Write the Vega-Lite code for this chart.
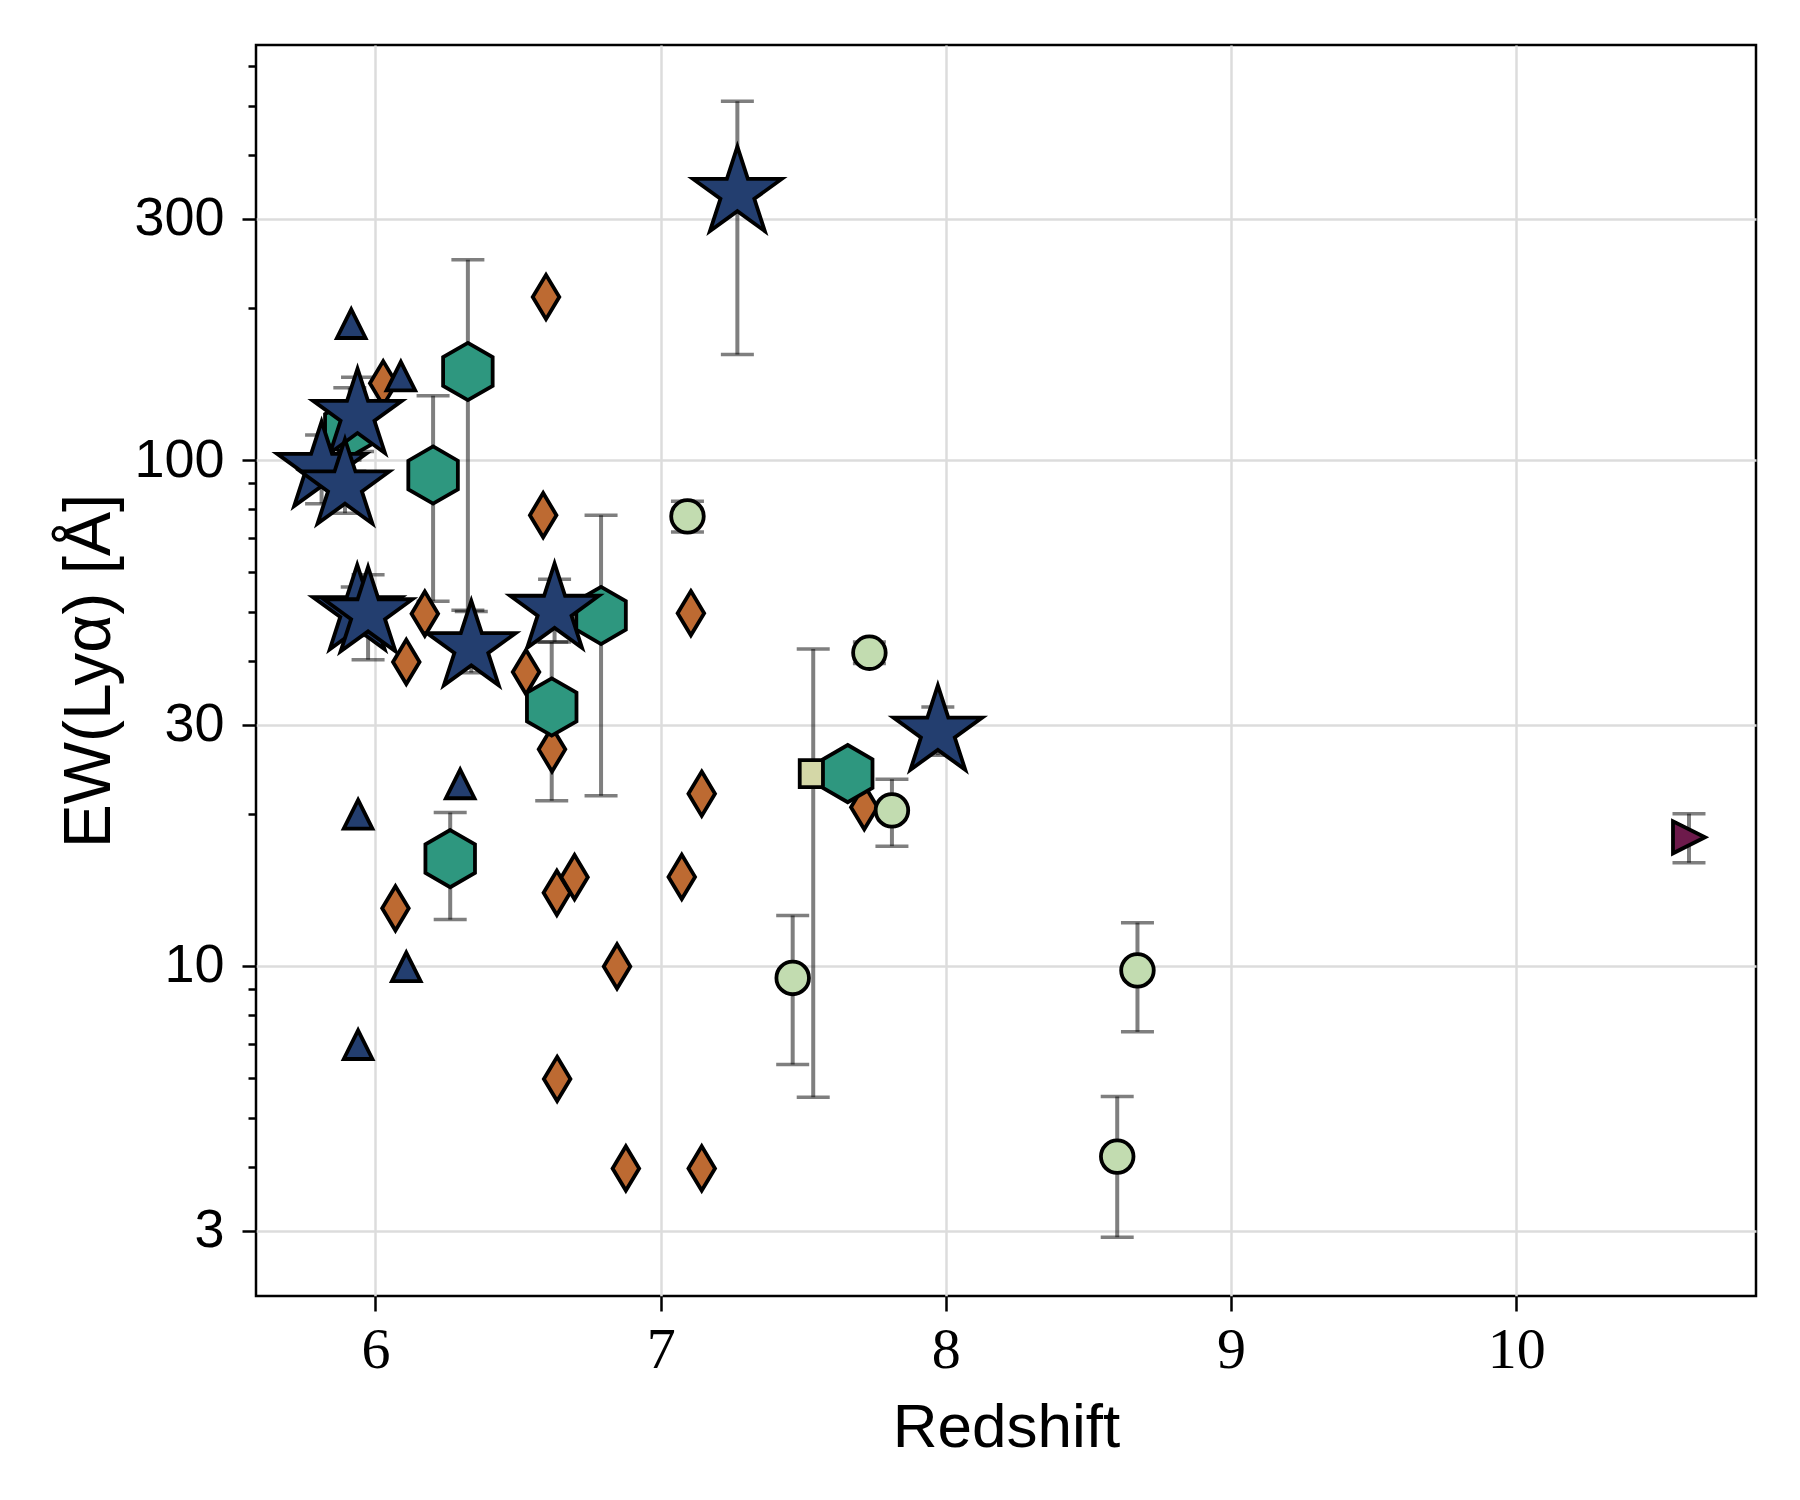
{
  "$schema": "https://vega.github.io/schema/vega-lite/v6.json",
  "autosize": "none",
  "padding": {"left": 256, "top": 45, "right": 44, "bottom": 204},
  "width": 1500,
  "height": 1251,
  "background": "white",
  "config": {
    "view": {"stroke": "black", "strokeWidth": 2.5},
    "axis": {"domain": false, "tickColor": "black", "tickWidth": 2.5, "labelColor": "black", "titleColor": "black", "titleFontWeight": "normal", "gridColor": "#dcdcdc", "gridWidth": 2.5, "labelOverlap": false}
  },
  "datasets": {
    "pts": [
      {"g": "star", "z": 5.937, "ew": 122.6, "lo": 104, "hi": 145.7},
      {"g": "star", "z": 5.811, "ew": 96.3, "lo": 82, "hi": 112},
      {"g": "star", "z": 5.893, "ew": 88.9, "lo": 78.5, "hi": 100},
      {"g": "star", "z": 5.936, "ew": 50.2, "lo": 45, "hi": 56.1},
      {"g": "star", "z": 5.974, "ew": 49.7, "lo": 40.3, "hi": 59.3},
      {"g": "star", "z": 6.336, "ew": 42.6, "lo": 38, "hi": 50.2},
      {"g": "star", "z": 6.628, "ew": 50.5, "lo": 43.7, "hi": 58.1},
      {"g": "star", "z": 7.269, "ew": 336.6, "lo": 161.6, "hi": 511.6},
      {"g": "star", "z": 7.972, "ew": 29.0, "lo": 26.1, "hi": 32.5},
      {"g": "tri", "z": 5.915, "ew": 186},
      {"g": "tri", "z": 6.089, "ew": 146.5},
      {"g": "tri", "z": 6.297, "ew": 22.9},
      {"g": "tri", "z": 5.939, "ew": 19.95},
      {"g": "tri", "z": 6.108, "ew": 9.96},
      {"g": "tri", "z": 5.939, "ew": 6.99},
      {"g": "hex", "z": 6.324, "ew": 149.6, "lo": 50.5, "hi": 248.8},
      {"g": "hex", "z": 6.202, "ew": 93.4, "lo": 52.6, "hi": 134},
      {"g": "hex", "z": 5.91, "ew": 115.5, "lo": 95, "hi": 139},
      {"g": "hex", "z": 6.618, "ew": 32.5, "lo": 21.2, "hi": 43.7},
      {"g": "hex", "z": 6.791, "ew": 49.3, "lo": 21.7, "hi": 77.8},
      {"g": "hex", "z": 6.262, "ew": 16.3, "lo": 12.35, "hi": 20.1},
      {"g": "hex", "z": 7.656, "ew": 24.0},
      {"g": "dia", "z": 6.598, "ew": 210},
      {"g": "dia", "z": 6.588, "ew": 77.8},
      {"g": "dia", "z": 6.027, "ew": 141.8},
      {"g": "dia", "z": 6.173, "ew": 49.7},
      {"g": "dia", "z": 6.108, "ew": 39.9},
      {"g": "dia", "z": 6.528, "ew": 38.1},
      {"g": "dia", "z": 6.619, "ew": 26.8},
      {"g": "dia", "z": 7.106, "ew": 49.8},
      {"g": "dia", "z": 7.144, "ew": 21.9},
      {"g": "dia", "z": 7.074, "ew": 15.0},
      {"g": "dia", "z": 6.07, "ew": 13.0},
      {"g": "dia", "z": 6.636, "ew": 13.95},
      {"g": "dia", "z": 6.698, "ew": 14.98},
      {"g": "dia", "z": 6.847, "ew": 9.98},
      {"g": "dia", "z": 6.637, "ew": 5.98},
      {"g": "dia", "z": 6.878, "ew": 3.98},
      {"g": "dia", "z": 7.144, "ew": 3.98},
      {"g": "dia", "z": 7.714, "ew": 20.6},
      {"g": "circ", "z": 7.094, "ew": 77.4, "lo": 72.1, "hi": 82.9},
      {"g": "circ", "z": 7.732, "ew": 41.6, "lo": 39.6, "hi": 43.7},
      {"g": "circ", "z": 7.811, "ew": 20.3, "lo": 17.25, "hi": 23.4},
      {"g": "circ", "z": 7.463, "ew": 9.47, "lo": 6.39, "hi": 12.58},
      {"g": "circ", "z": 8.672, "ew": 9.8, "lo": 7.41, "hi": 12.18},
      {"g": "circ", "z": 8.601, "ew": 4.2, "lo": 2.91, "hi": 5.52},
      {"g": "sq", "z": 7.535, "ew": 24.0, "lo": 5.5, "hi": 42.3},
      {"g": "rt", "z": 10.606, "ew": 17.96, "lo": 16.0, "hi": 20.0}
    ]
  },
  "data": {"name": "pts"},
  "encoding": {
    "x": {
      "field": "z", "type": "quantitative", "title": "Redshift",
      "scale": {"domain": [5.581, 10.841], "nice": false, "zero": false},
      "axis": {"values": [6, 7, 8, 9, 10], "format": "d", "labelFont": "Liberation Serif", "labelFontSize": 58, "labelPadding": 10, "tickSize": 15, "grid": true, "titleFont": "Liberation Sans", "titleFontSize": 62, "titlePadding": 18}
    }
  },
  "layer": [
    {
      "transform": [{"filter": "isValid(datum.lo)"}],
      "mark": {"type": "rule", "color": "black", "opacity": 0.5, "strokeWidth": 4},
      "encoding": {
        "y": {"field": "lo", "type": "quantitative", "title": "EW(Lyα) [Å]",
          "scale": {"type": "log", "domain": [2.2271, 661.1], "nice": false},
          "axis": {"values": [3, 4, 5, 6, 7, 8, 9, 10, 20, 30, 40, 50, 60, 70, 80, 90, 100, 200, 300, 400, 500, 600],
            "labelExpr": "indexof([3,10,30,100,300], datum.value) >= 0 ? format(datum.value, 'd') : ''",
            "tickSize": {"condition": {"test": "indexof([3,10,30,100,300], datum.value) >= 0", "value": 14}, "value": 8},
            "gridOpacity": {"condition": {"test": "indexof([3,10,30,100,300], datum.value) >= 0", "value": 1}, "value": 0},
            "grid": true, "labelFont": "Liberation Sans", "labelFontSize": 54, "labelPadding": 18, "titleFont": "Liberation Sans", "titleFontSize": 66, "titlePadding": 10}},
        "y2": {"field": "hi"}
      }
    },
    {
      "transform": [{"filter": "isValid(datum.lo)"}],
      "mark": {"type": "tick", "orient": "horizontal", "color": "black", "opacity": 0.5, "size": 33, "thickness": 3.5},
      "encoding": {
        "y": {"field": "lo", "type": "quantitative", "title": "EW(Lyα) [Å]", "scale": {"type": "log", "domain": [2.2271, 661.1], "nice": false}}
      }
    },
    {
      "transform": [{"filter": "isValid(datum.hi)"}],
      "mark": {"type": "tick", "orient": "horizontal", "color": "black", "opacity": 0.5, "size": 33, "thickness": 3.5},
      "encoding": {
        "y": {"field": "hi", "type": "quantitative", "title": "EW(Lyα) [Å]", "scale": {"type": "log", "domain": [2.2271, 661.1], "nice": false}}
      }
    },
    {
      "transform": [{"filter": "datum.g == 'dia'"}],
      "mark": {"type": "point", "shape": "M0,-1L0.6,0L0,1L-0.6,0Z", "filled": true, "fill": "#bd6a32", "stroke": "black", "strokeWidth": 3.8, "opacity": 1, "size": 1960},
      "encoding": {"y": {"field": "ew", "type": "quantitative", "title": "EW(Lyα) [Å]", "scale": {"type": "log", "domain": [2.2271, 661.1], "nice": false}}}
    },
    {
      "transform": [{"filter": "datum.g == 'sq'"}],
      "mark": {"type": "point", "shape": "square", "filled": true, "fill": "#d4d7a7", "stroke": "black", "strokeWidth": 3.8, "opacity": 1, "size": 729},
      "encoding": {"y": {"field": "ew", "type": "quantitative", "title": "EW(Lyα) [Å]", "scale": {"type": "log", "domain": [2.2271, 661.1], "nice": false}}}
    },
    {
      "transform": [{"filter": "datum.g == 'hex'"}],
      "mark": {"type": "point", "shape": "M0,-1L0.866,-0.5L0.866,0.5L0,1L-0.866,0.5L-0.866,-0.5Z", "filled": true, "fill": "#2e977f", "stroke": "black", "strokeWidth": 3.8, "opacity": 1, "size": 3272},
      "encoding": {"y": {"field": "ew", "type": "quantitative", "title": "EW(Lyα) [Å]", "scale": {"type": "log", "domain": [2.2271, 661.1], "nice": false}}}
    },
    {
      "transform": [{"filter": "datum.g == 'circ'"}],
      "mark": {"type": "point", "shape": "circle", "filled": true, "fill": "#c2dcb0", "stroke": "black", "strokeWidth": 3.8, "opacity": 1, "size": 1060},
      "encoding": {"y": {"field": "ew", "type": "quantitative", "title": "EW(Lyα) [Å]", "scale": {"type": "log", "domain": [2.2271, 661.1], "nice": false}}}
    },
    {
      "transform": [{"filter": "datum.g == 'rt'"}],
      "mark": {"type": "point", "shape": "M1,0L-1,1L-1,-1Z", "filled": true, "fill": "#6d1a4b", "stroke": "black", "strokeWidth": 3.8, "opacity": 1, "size": 1024},
      "encoding": {"y": {"field": "ew", "type": "quantitative", "title": "EW(Lyα) [Å]", "scale": {"type": "log", "domain": [2.2271, 661.1], "nice": false}}}
    },
    {
      "transform": [{"filter": "datum.g == 'tri'"}],
      "mark": {"type": "point", "shape": "M0,-1L1,1L-1,1Z", "filled": true, "fill": "#233e6f", "stroke": "black", "strokeWidth": 3.8, "opacity": 1, "size": 820},
      "encoding": {"y": {"field": "ew", "type": "quantitative", "title": "EW(Lyα) [Å]", "scale": {"type": "log", "domain": [2.2271, 661.1], "nice": false}}}
    },
    {
      "transform": [{"filter": "datum.g == 'star'"}],
      "mark": {"type": "point", "shape": "M0,-1L0.2245,-0.309L0.9511,-0.309L0.3633,0.118L0.5878,0.809L0,0.382L-0.5878,0.809L-0.3633,0.118L-0.9511,-0.309L-0.2245,-0.309Z", "filled": true, "fill": "#233e6f", "stroke": "black", "strokeWidth": 3.8, "opacity": 1, "size": 8700},
      "encoding": {"y": {"field": "ew", "type": "quantitative", "title": "EW(Lyα) [Å]", "scale": {"type": "log", "domain": [2.2271, 661.1], "nice": false}}}
    }
  ]
}
